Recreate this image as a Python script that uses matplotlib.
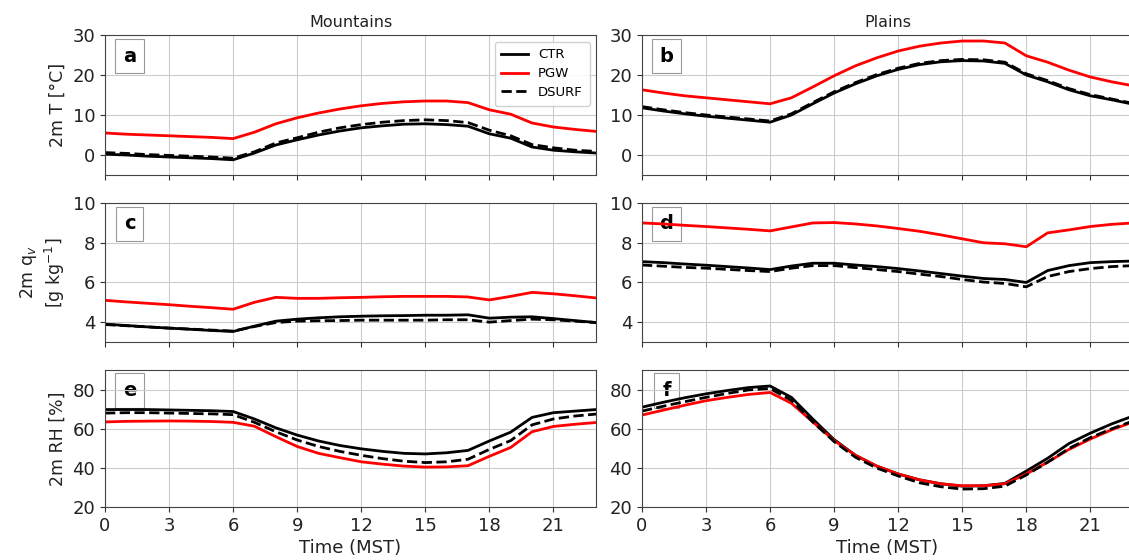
import numpy as np
import matplotlib
matplotlib.use("Agg")
import matplotlib.pyplot as plt

# hourly composites, 0-23 MST
hours = np.arange(24)

# 2 m temperature [degC]
t_mtn_ctr = [0.2, 0.0, -0.3, -0.5, -0.7, -0.9, -1.2, 0.5, 2.5, 3.8, 5.0, 6.0, 6.8, 7.3, 7.7, 7.8,
             7.6, 7.2, 5.3, 4.2, 2.0, 1.2, 0.8, 0.5]
t_mtn_pgw = [5.5, 5.2, 5.0, 4.8, 4.6, 4.4, 4.1, 5.7, 7.8, 9.3, 10.5, 11.5, 12.3, 12.9, 13.3, 13.5,
             13.5, 13.1, 11.3, 10.2, 8.0, 7.0, 6.4, 5.9]
t_mtn_dsurf = [0.6, 0.4, 0.1, -0.1, -0.3, -0.5, -0.8, 0.8, 3.0, 4.3, 5.7, 6.8, 7.6, 8.2, 8.6, 8.8,
               8.6, 8.1, 6.2, 4.8, 2.6, 1.8, 1.2, 0.9]
t_pln_ctr = [11.8, 11.0, 10.3, 9.7, 9.2, 8.7, 8.2, 10.0, 12.8, 15.5, 17.8, 19.8, 21.4, 22.6, 23.3, 23.6,
             23.5, 22.9, 20.0, 18.3, 16.3, 14.8, 13.8, 12.7]
t_pln_pgw = [16.3, 15.5, 14.8, 14.3, 13.8, 13.3, 12.8, 14.3, 17.0, 19.8, 22.3, 24.3, 26.0, 27.2, 28.0, 28.5,
             28.5, 28.0, 24.8, 23.2, 21.2, 19.5, 18.3, 17.3]
t_pln_dsurf = [12.1, 11.3, 10.6, 10.0, 9.5, 9.0, 8.5, 10.3, 13.1, 15.8, 18.1, 20.1, 21.7, 22.9, 23.6, 23.9,
               23.8, 23.2, 20.3, 18.6, 16.6, 15.1, 14.0, 12.9]

# 2 m water vapour mixing ratio [g/kg]
q_mtn_ctr = [3.9, 3.83, 3.76, 3.7, 3.64, 3.58, 3.53, 3.8, 4.05, 4.15, 4.22, 4.27, 4.3, 4.32, 4.33, 4.35,
             4.35, 4.37, 4.2, 4.25, 4.27, 4.18, 4.08, 3.98]
q_mtn_pgw = [5.1, 5.02, 4.95, 4.88, 4.8, 4.73, 4.65, 5.0, 5.25, 5.2, 5.2, 5.23, 5.25, 5.28, 5.3, 5.3,
             5.3, 5.27, 5.12, 5.3, 5.5, 5.43, 5.33, 5.22]
q_mtn_dsurf = [3.88, 3.82, 3.76, 3.7, 3.65, 3.6, 3.55, 3.78, 3.98, 4.05, 4.07, 4.08, 4.1, 4.1, 4.1, 4.1,
               4.12, 4.12, 4.0, 4.08, 4.15, 4.12, 4.05, 3.98]
q_pln_ctr = [7.05, 7.0, 6.93, 6.87, 6.8, 6.73, 6.65, 6.83, 6.97, 6.97, 6.88, 6.8, 6.7, 6.58, 6.45, 6.32,
             6.2, 6.15, 6.0, 6.6, 6.85, 7.0, 7.05, 7.08]
q_pln_pgw = [9.0, 8.95, 8.88, 8.82, 8.75, 8.68, 8.6, 8.8, 9.0, 9.02, 8.95, 8.85, 8.72, 8.58, 8.4, 8.2,
             8.0, 7.95, 7.8, 8.5, 8.65, 8.82, 8.93, 9.0]
q_pln_dsurf = [6.88, 6.82, 6.76, 6.72, 6.66, 6.6, 6.55, 6.72, 6.85, 6.85, 6.75, 6.65, 6.55, 6.42, 6.3, 6.15,
               6.02, 5.95, 5.78, 6.3, 6.55, 6.7, 6.8, 6.85]

# 2 m relative humidity [%]
rh_mtn_ctr = [69.8, 69.8, 69.8, 69.6, 69.4, 69.2, 68.8, 65.0, 60.5, 56.8, 53.8, 51.5, 49.8, 48.5, 47.5, 47.2,
              47.8, 49.0, 53.8, 58.3, 65.8, 68.2, 69.0, 69.8]
rh_mtn_pgw = [63.5, 63.8, 63.9, 64.0, 63.9, 63.7, 63.3, 61.3, 56.0, 51.0, 47.5, 45.3, 43.2, 42.0, 41.0, 40.5,
              40.6, 41.2, 46.0, 50.5, 58.5, 61.2, 62.3, 63.2]
rh_mtn_dsurf = [68.0, 68.2, 68.2, 68.0, 67.8, 67.6, 67.2, 63.3, 58.5, 54.3, 51.0, 48.5, 46.5, 44.8, 43.5, 42.8,
                43.2, 44.5, 49.5, 54.0, 62.0, 65.0, 66.5, 67.5]
rh_pln_ctr = [71.0, 73.5, 75.8, 77.8, 79.5, 81.0, 81.8, 76.0, 65.0, 54.5, 46.5, 41.0, 37.0, 34.0, 32.0, 30.8,
              31.0, 32.2, 38.5, 45.0, 52.5, 57.8, 62.5, 66.5]
rh_pln_pgw = [67.0, 69.5, 72.0, 74.3, 76.0, 77.5, 78.5, 73.0, 63.5, 54.0, 46.5, 41.0, 37.0, 34.0, 32.0, 31.0,
              31.0, 32.0, 37.0, 43.0, 49.5, 54.8, 59.5, 63.5]
rh_pln_dsurf = [69.0, 71.5, 73.8, 76.0, 78.0, 79.8, 80.5, 74.5, 63.5, 53.5, 45.5, 40.0, 36.0, 32.5, 30.5, 29.3,
                29.5, 30.8, 36.5, 43.0, 50.0, 55.5, 60.0, 64.0]

col_titles = ["Mountains", "Plains"]
row_labels = ["2m T [°C]", "2m q$_v$\n[g kg$^{-1}$]", "2m RH [%]"]
panel_letters = [["a", "b"], ["c", "d"], ["e", "f"]]
row_ylims = [(-5, 30), (3, 10), (20, 90)]
row_yticks = [[0, 10, 20, 30], [4, 6, 8, 10], [20, 40, 60, 80]]

panels = [
    [(t_mtn_ctr, t_mtn_pgw, t_mtn_dsurf), (t_pln_ctr, t_pln_pgw, t_pln_dsurf)],
    [(q_mtn_ctr, q_mtn_pgw, q_mtn_dsurf), (q_pln_ctr, q_pln_pgw, q_pln_dsurf)],
    [(rh_mtn_ctr, rh_mtn_pgw, rh_mtn_dsurf), (rh_pln_ctr, rh_pln_pgw, rh_pln_dsurf)],
]

fig = plt.figure(figsize=(11.29, 5.6), dpi=100)

# axes boxes in figure fractions (right column runs slightly off the page)
lefts = [0.093, 0.5686]
width = 0.435
bottoms = [0.6875, 0.3893, 0.0940]
heights = [0.25, 0.248, 0.2455]

for r in range(3):
    for c in range(2):
        ax = fig.add_axes([lefts[c], bottoms[r], width, heights[r]])
        ctr, pgw, dsurf = panels[r][c]
        ax.plot(hours, ctr, color="black", lw=2, label="CTR")
        ax.plot(hours, pgw, color="red", lw=2, label="PGW")
        ax.plot(hours, dsurf, color="black", lw=2, ls="--", label="DSURF")

        ax.set_xlim(0, 23)
        ax.set_xticks(np.arange(0, 22, 3))
        ax.set_ylim(*row_ylims[r])
        ax.set_yticks(row_yticks[r])
        ax.grid(True, color="#cccccc", lw=0.8)
        ax.tick_params(labelsize=13, colors="#333333", labelcolor="#222222")
        for sp in ax.spines.values():
            sp.set_color("#444444")

        if r < 2:
            ax.set_xticklabels([])
        else:
            ax.set_xlabel("Time (MST)", fontsize=13, color="#222222", labelpad=3)
        if c == 0:
            ax.set_ylabel(row_labels[r], fontsize=12.5, color="#222222")
        if r == 0:
            ax.set_title(col_titles[c], fontsize=11.5, color="#222222", pad=6)
            if c == 0:
                ax.legend(loc="upper right", fontsize=9.5, handlelength=2.0,
                          borderpad=0.5, labelspacing=0.45, framealpha=0.9)

        ax.text(0.05, 0.85, panel_letters[r][c], transform=ax.transAxes, fontsize=14,
                fontweight="bold", ha="center", va="center", zorder=1,
                bbox=dict(boxstyle="square,pad=0.4", facecolor="white", edgecolor="#999999", lw=0.8))

fig.savefig("out.png", dpi=100)
